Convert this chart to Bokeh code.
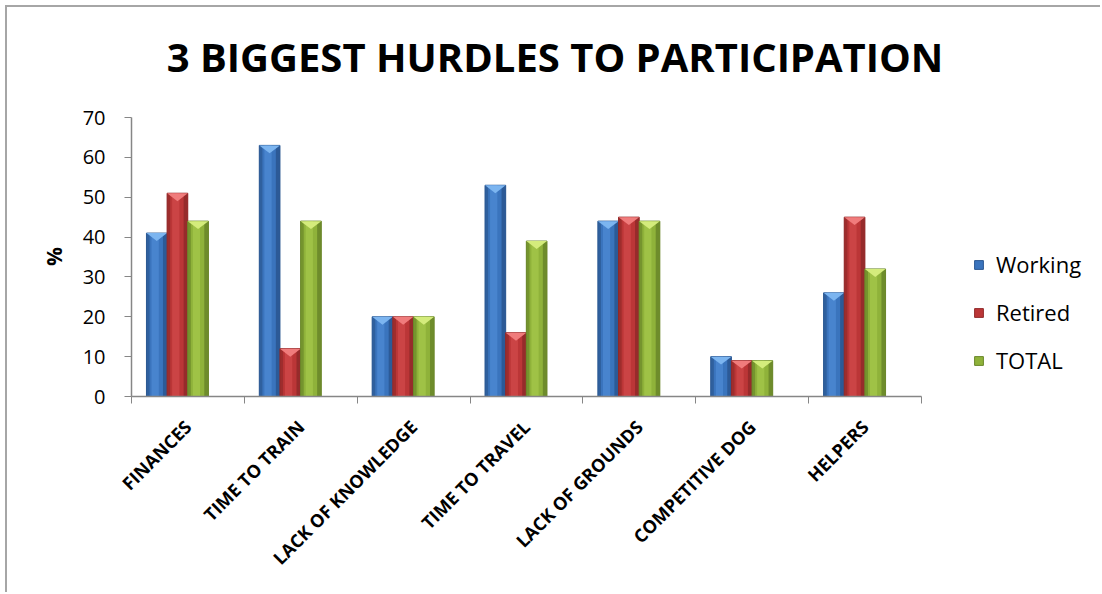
import numpy as np
from bokeh.plotting import figure
from bokeh.models import ColumnDataSource, FixedTicker, Legend, LegendItem, Range1d, Label
from bokeh.embed import file_html
from bokeh.resources import INLINE

# ---- data ----
categories = ["FINANCES", "TIME TO TRAIN", "LACK OF KNOWLEDGE", "TIME TO TRAVEL",
              "LACK OF GROUNDS", "COMPETITIVE DOG", "HELPERS"]
series_names = ["Working", "Retired", "TOTAL"]
working = [41, 63, 20, 53, 44, 10, 26]
retired = [51, 12, 20, 16, 45, 9, 45]
total = [44, 44, 20, 39, 44, 9, 32]
y_ticks = [0, 10, 20, 30, 40, 50, 60, 70]
title_text = "3 BIGGEST HURDLES TO PARTICIPATION"
y_label = "%"

series_values = [working, retired, total]
# (edge, mid, light, bevel)
palettes = [
    ("#2b5892", "#3a74bd", "#4c88d2", "#7cb5f0"),
    ("#922a2a", "#bb3637", "#cf4849", "#f07c7c"),
    ("#6a872a", "#8fb23a", "#a2c54a", "#d4ec7c"),
]

FONT = "Open Sans"
n = len(categories)
y_max = y_ticks[-1]

# The frame spans from the axis to the right/top edges; axes are bounded to the data extent.
frame_w, axis_w = 1102 - 131, 790
frame_h, axis_h = 396 - 7, 279
p = figure(width=1095, height=587,
           x_range=Range1d(0, n * frame_w / axis_w),
           y_range=Range1d(0, y_max * frame_h / axis_h),
           output_backend="svg", toolbar_location=None,
           min_border_left=124, min_border_right=0, min_border_top=0,
           min_border_bottom=198)
p.margin = (5, 0, 0, 5)
p.styles = {"border-top": "2px solid #a6a6a6", "border-left": "2px solid #a6a6a6"}
p.outline_line_color = None
p.xgrid.visible = False
p.ygrid.visible = False

centers = np.arange(n) + 0.5
bw = 0.183
group_shift = -0.093
offsets = [-bw, 0.0, bw]
tri_h = 2.0

legend_items = []
for vals, name, off, (edge, mid, light, bevel) in zip(series_values, series_names, offsets, palettes):
    xs = centers + group_shift + off
    src = ColumnDataSource(dict(x=xs, top=vals))
    base = p.vbar(x="x", top="top", width=bw, bottom=0, source=src,
                  fill_color=mid, line_color=edge, line_width=1)
    p.vbar(x="x", top="top", width=bw * 0.15, bottom=0, source=ColumnDataSource(dict(x=xs - bw * 0.425, top=vals)),
           fill_color=edge, line_color=None, fill_alpha=0.7)
    p.vbar(x="x", top="top", width=bw * 0.2, bottom=0, source=ColumnDataSource(dict(x=xs + bw * 0.4, top=vals)),
           fill_color=edge, line_color=None, fill_alpha=0.9)
    p.vbar(x="x", top="top", width=bw * 0.35, bottom=0, source=ColumnDataSource(dict(x=xs - bw * 0.08, top=vals)),
           fill_color=light, line_color=None, fill_alpha=0.8)
    txs = [[x - bw / 2, x + bw / 2, x] for x in xs]
    tys = [[v, v, v - tri_h] for v in vals]
    p.patches(xs="xs", ys="ys", source=ColumnDataSource(dict(xs=txs, ys=tys)),
              fill_color=bevel, line_color=None)
    legend_items.append(LegendItem(label=name, renderers=[base]))

# x axis
xa = p.xaxis[0]
xa.bounds = (0, n)
xa.ticker = FixedTicker(ticks=list(centers), minor_ticks=list(range(n + 1)))
xa.major_label_overrides = {float(c): lab for c, lab in zip(centers, categories)}
xa.major_tick_line_color = None
xa.minor_tick_in = 0
xa.minor_tick_out = 7
xa.minor_tick_line_color = "#868686"
xa.axis_line_color = "#868686"
xa.axis_line_width = 1.5
xa.major_label_orientation = np.pi / 4
xa.major_label_text_font = FONT
xa.major_label_text_font_style = "bold"
xa.major_label_text_font_size = "18px"
xa.major_label_text_color = "#000000"
xa.major_label_standoff = 20

# y axis
ya = p.yaxis[0]
ya.bounds = (0, y_max)
ya.ticker = FixedTicker(ticks=y_ticks)
ya.minor_tick_line_color = None
ya.major_tick_in = 0
ya.major_tick_out = 7
ya.major_tick_line_color = "#868686"
ya.axis_line_color = "#868686"
ya.axis_line_width = 1.5
ya.major_label_text_font = FONT
ya.major_label_text_font_size = "20px"
ya.major_label_text_color = "#000000"
ya.major_label_standoff = 19
# non-breaking spaces after the label shift it to the middle of the bounded axis
ya.axis_label = y_label + "\u00a0" * 20
ya.axis_label_text_font = FONT
ya.axis_label_text_font_style = "bold"
ya.axis_label_text_font_size = "21px"
ya.axis_label_text_color = "#000000"
ya.axis_label_standoff = 12

# title drawn inside the (extended) frame
p.add_layout(Label(x=423.5, y=340, x_units="screen", y_units="screen", text=title_text,
                   text_align="center", text_baseline="alphabetic",
                   text_font=FONT, text_font_style="bold", text_font_size="40px",
                   text_color="#000000"))

legend = Legend(items=legend_items, location=(842, 21), orientation="vertical",
                glyph_width=11, glyph_height=11, label_height=20, spacing=18,
                label_standoff=12, padding=0, margin=0,
                border_line_color=None, background_fill_alpha=0,
                label_text_font=FONT, label_text_font_size="22px",
                label_text_color="#000000")
p.add_layout(legend, "center")

open("out.html", "w").write(file_html(p, INLINE))
